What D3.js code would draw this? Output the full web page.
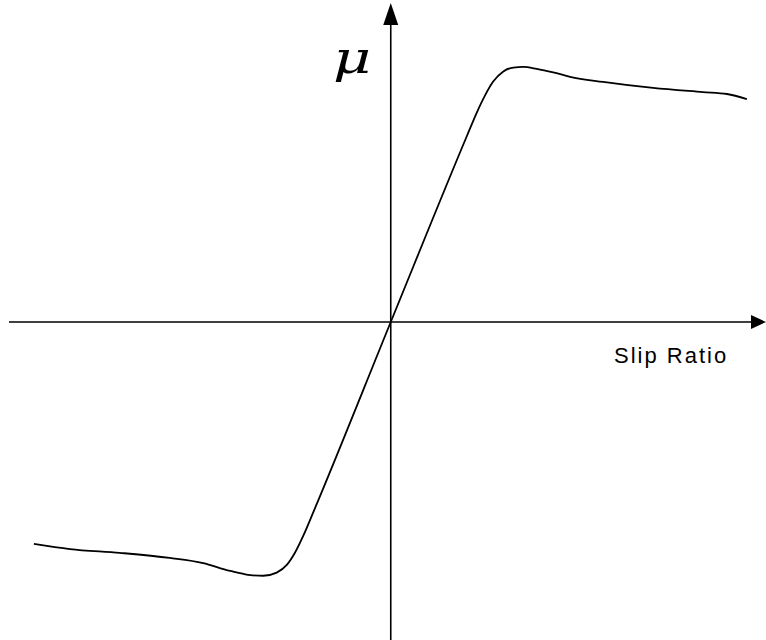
<!DOCTYPE html>
<html>
<head>
<meta charset="utf-8">
<script src="https://cdn.jsdelivr.net/npm/d3@7"></script>
<style>
  html, body { margin: 0; padding: 0; background: #fff; }
  svg { display: block; }
</style>
</head>
<body>
<svg id="chart" width="766" height="640"></svg>
<script>
// Slip ratio (x) and friction coefficient mu (y) along the curve
const slip = [-0.951, -0.855, -0.722, -0.589, -0.500, -0.428, -0.411, -0.375, -0.340, -0.304, -0.277, -0.255, -0.233, -0.206,
              0, 0.204, 0.229, 0.251, 0.273, 0.300, 0.327, 0.353, 0.389, 0.433, 0.478, 0.566, 0.699, 0.832, 0.896, 0.949];
const mu   = [-0.698, -0.714, -0.726, -0.742, -0.758, -0.783, -0.787, -0.796, -0.798, -0.788, -0.764, -0.725, -0.672, -0.597,
              0, 0.588, 0.658, 0.712, 0.756, 0.788, 0.800, 0.802, 0.796, 0.785, 0.771, 0.755, 0.736, 0.723, 0.717, 0.701];
const xLabel = "Slip Ratio";
const yLabel = "\u03BC";

const svg = d3.select("#chart");

const x = d3.scaleLinear().domain([-1.02, 1]).range([8, 766]);
const y = d3.scaleLinear().domain([-1, 1]).range([640, 4]);

const x0 = x(0), y0 = y(0);

// axes
svg.append("line")
  .attr("x1", x(-1.02) + 1).attr("x2", 754)
  .attr("y1", y0).attr("y2", y0)
  .attr("stroke", "#000").attr("stroke-width", 1.6);
svg.append("line")
  .attr("x1", x0).attr("x2", x0)
  .attr("y1", y(-1)).attr("y2", 22)
  .attr("stroke", "#000").attr("stroke-width", 1.6);

// arrow heads
svg.append("path")
  .attr("d", `M${x0},3 L${x0 - 7.5},25 L${x0 + 7.5},25 Z`)
  .attr("fill", "#000");
svg.append("path")
  .attr("d", `M766,${y0} L751,${y0 - 7} L751,${y0 + 7} Z`)
  .attr("fill", "#000");

// curve
const pts = slip.map((s, i) => [s, mu[i]]);
const line = d3.line()
  .x(d => x(d[0]))
  .y(d => y(d[1]))
  .curve(d3.curveMonotoneX);
svg.append("path")
  .datum(pts)
  .attr("d", line)
  .attr("fill", "none")
  .attr("stroke", "#000")
  .attr("stroke-width", 1.8);

// labels
svg.append("text")
  .attr("x", 614).attr("y", 363)
  .attr("font-family", "Liberation Sans, Arial, sans-serif")
  .attr("font-size", 22)
  .attr("letter-spacing", 2)
  .attr("fill", "#000")
  .text(xLabel);

svg.append("text")
  .attr("transform", "translate(333,73) scale(1.25,0.97)")
  .attr("font-family", "DejaVu Serif, serif")
  .attr("font-style", "italic")
  .attr("font-size", 47)
  .attr("fill", "#000")
  .text(yLabel);
</script>
</body>
</html>
